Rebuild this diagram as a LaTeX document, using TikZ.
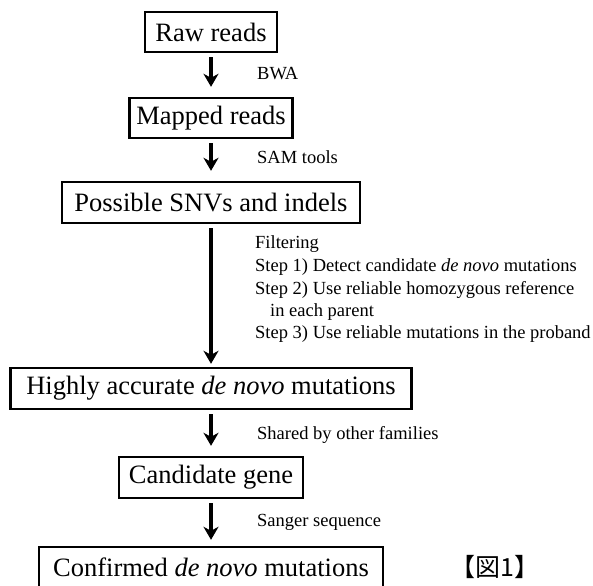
\documentclass[tikz,border=0pt]{standalone}
\usepackage{fontspec}
\setmainfont{Liberation Serif}
\newfontfamily\cjk{Noto Sans CJK JP}
\usetikzlibrary{positioning,arrows.meta}

\begin{document}
\begin{tikzpicture}[x=1pt,y=-1pt,
  stagebox/.style={draw,line width=2.4pt,inner sep=0pt,minimum height=41pt,
    font=\fontsize{26.5}{30}\selectfont},
  toolnote/.style={anchor=west,inner sep=0pt,font=\fontsize{18.5}{22}\selectfont},
  flow/.style={line width=3.4pt,-{Stealth[length=13pt,width=15pt,inset=4pt]},
    shorten <=4pt,shorten >=10pt}]
\clip (0,0) rectangle (593,585);
\useasboundingbox (0,0) rectangle (593,585);
% stages
\node[stagebox,minimum width=132pt,minimum height=40pt] (raw) at (211,32) {Raw reads};
\node[stagebox,minimum width=163pt,minimum height=40pt] (mapped) at (211,118) {Mapped reads};
\node[stagebox,minimum width=298pt] (snv) at (211,202.5) {Possible SNVs and indels};
\node[stagebox,minimum width=401pt] (accurate) at (211,388.5) {Highly accurate \textit{de novo} mutations};
\node[stagebox,minimum width=184pt] (gene) at (211,477.5) {Candidate gene};
\node[stagebox,minimum width=344pt] (confirmed) at (211,567.5) {Confirmed \textit{de novo} mutations};
% arrows
\draw[flow] (raw) -- (mapped);
\draw[flow] (mapped) -- (snv);
\draw[flow,shorten >=3pt] (snv) -- (accurate);
\draw[flow] (accurate) -- (gene);
\draw[flow,shorten >=6pt] (gene) -- (confirmed);
% tools
\node[toolnote] (bwa) at (257,74) {BWA};
\node[toolnote] (samtools) at (257,157) {SAM tools};
\node[toolnote] (filt) at (255,244) {Filtering};
\node[toolnote] (stepA) at (255,267) {Step 1) Detect candidate \textit{de novo} mutations};
\node[toolnote] (stepB) at (255,290) {Step 2) Use reliable homozygous reference};
\node[toolnote] (stepBb) at (270,312) {in each parent};
\node[toolnote] (stepC) at (255,334) {Step 3) Use reliable mutations in the proband};
\node[toolnote] (shared) at (257,435) {Shared by other families};
\node[toolnote] (sanger) at (257,522) {Sanger sequence};
\node[inner sep=0pt,font=\cjk\fontsize{25}{28}\selectfont] (fig) at (495,567) {【図1】};
\end{tikzpicture}
\end{document}
